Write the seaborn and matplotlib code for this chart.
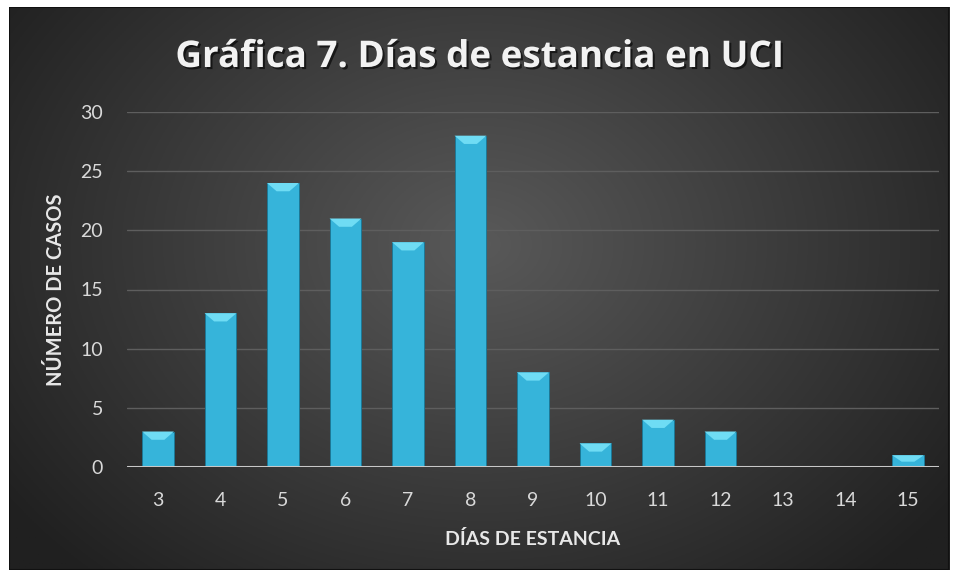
import numpy as np
import pandas as pd
import matplotlib
matplotlib.use("Agg")
import matplotlib.pyplot as plt
import matplotlib.patheffects as pe
import seaborn as sns
from matplotlib.patches import Polygon, Rectangle

dias = ["3", "4", "5", "6", "7", "8", "9", "10", "11", "12", "13", "14", "15"]
casos = [3, 13, 24, 21, 19, 28, 8, 2, 4, 3, 0, 0, 1]
yticks = [0, 5, 10, 15, 20, 25, 30]

df = pd.DataFrame({"dias": dias, "casos": casos})

sns.set_theme(style="dark")
plt.rcParams["font.family"] = ["Lato", "DejaVu Sans"]

W, H = 958, 577
fig = plt.figure(figsize=(W / 100, H / 100), dpi=100)
fig.patch.set_facecolor("white")

# background panel with radial gradient
bg = fig.add_axes([9 / W, 7 / H, (W - 18) / W, (H - 14) / H])
bg.set_axis_off()
ny, nx = 300, 500
yy, xx = np.mgrid[0:ny, 0:nx]
cx, cy = nx * 0.5, ny * 0.42
r = np.sqrt(((xx - cx) / (nx * 0.62)) ** 2 + ((yy - cy) / (ny * 0.8)) ** 2)
r = np.clip(r, 0, 1)
inner = np.array([0x59, 0x59, 0x59]) / 255
outer = np.array([0x20, 0x20, 0x20]) / 255
img = inner[None, None, :] * (1 - r[..., None]) + outer[None, None, :] * r[..., None]
bg.imshow(img, aspect="auto", extent=[0, 1, 0, 1])
bg.add_patch(Rectangle((0, 0), 1, 1, transform=bg.transAxes, fill=False,
                       edgecolor="#111111", linewidth=1.5))

ax = fig.add_axes([126.75 / W, 1 - 467 / H, 812.5 / W, 355 / H])
ax.patch.set_alpha(0)
sns.barplot(data=df, x="dias", y="casos", color="#36b4da", width=0.51,
            saturation=1, ax=ax, zorder=3, edgecolor="#1d7896", linewidth=0.7)

# bevel highlight on top of each bar
for p in ax.patches:
    x0, w, h = p.get_x(), p.get_width(), p.get_height()
    if h <= 0:
        continue
    d = min(0.7, h * 0.55)
    inset = w * 0.3
    poly = Polygon([(x0, h), (x0 + w, h), (x0 + w - inset, h - d), (x0 + inset, h - d)],
                   closed=True, facecolor="#6fdcf4", edgecolor="none", zorder=4)
    ax.add_patch(poly)

ax.set_ylim(0, 30)
ax.set_xlim(-0.5, len(dias) - 0.5)
ax.set_yticks(yticks)
ax.grid(axis="y", color="#5e5e5e", linewidth=1, zorder=0)
ax.grid(axis="x", visible=False)
for s in ax.spines.values():
    s.set_visible(False)
ax.axhline(0, color="#c8c8c8", linewidth=2.2, zorder=5)
ax.tick_params(axis="both", colors="#d9d9d9", labelsize=14, length=0)
ax.tick_params(axis="x", pad=18)
ax.tick_params(axis="y", pad=17)
ax.set_xlabel("DÍAS DE ESTANCIA", color="#e8e8e8", fontsize=14,
              fontweight="bold", labelpad=15)
ax.set_ylabel("NÚMERO DE CASOS", color="#e8e8e8", fontsize=14.5,
              fontweight="bold", labelpad=10)

fig.text(0.5, 1 - 67 / H, "Gráfica 7. Días de estancia en UCI", ha="center", va="baseline",
         color="#f2f2f2", fontsize=26.5, fontweight="bold", family=["Open Sans", "DejaVu Sans"],
         path_effects=[pe.withSimplePatchShadow(offset=(1.5, -1.5), shadow_rgbFace="black",
                                                alpha=0.6)])

fig.savefig("out.png", dpi=100)
